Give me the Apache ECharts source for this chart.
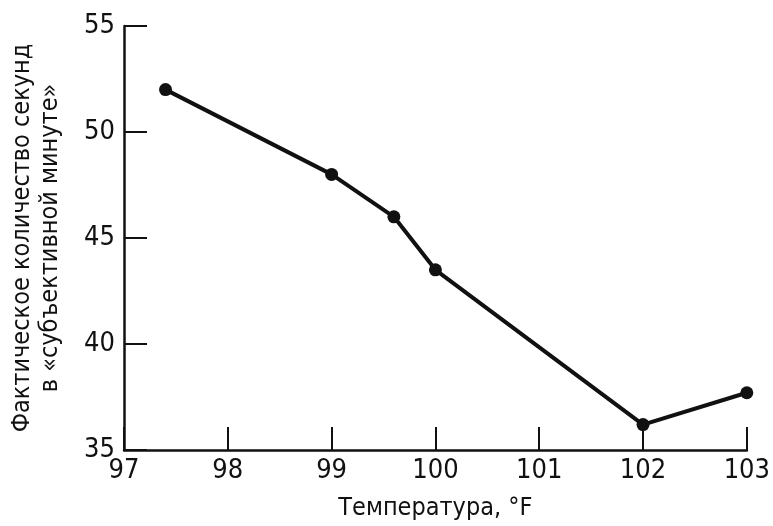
<!DOCTYPE html>
<html>
<head>
<meta charset="utf-8">
<script src="https://cdn.jsdelivr.net/npm/echarts@6/dist/echarts.min.js"></script>
<style>
html,body{margin:0;padding:0;background:#fff;}
#chart{width:773px;height:526px;}
</style>
</head>
<body>
<div id="chart"></div>
<script>
const temperatures = [97.4, 99, 99.6, 100, 102, 103];
const seconds = [52, 48, 46, 43.5, 36.2, 37.7];
const xTitle = 'Температура, °F';
const yTitle = 'Фактическое количество секунд\nв «субъективной минуте»';

const FONT = "'Liberation Sans Narrow', 'Arial Narrow', 'DejaVu Sans Condensed', sans-serif";
const INK = '#111';

const chart = echarts.init(document.getElementById('chart'), null, {renderer: 'canvas'});
chart.setOption({
  backgroundColor: '#fff',
  animation: false,
  grid: {left: 123, right: 18, top: 26, bottom: 73, containLabel: false},
  xAxis: {
    type: 'value', min: 97, max: 103, interval: 1,
    name: xTitle, nameLocation: 'middle', nameGap: 46,
    nameTextStyle: {fontFamily: FONT, fontSize: 25, color: INK},
    axisLine: {show: true, lineStyle: {color: INK, width: 2.5}},
    axisTick: {show: true, inside: true, length: 23, lineStyle: {color: INK, width: 2}},
    axisLabel: {fontFamily: FONT, fontSize: 27, color: INK, margin: 7},
    splitLine: {show: false}
  },
  yAxis: {
    type: 'value', min: 35, max: 55, interval: 5,
    name: yTitle, nameLocation: 'middle', nameGap: 60, nameRotate: 90,
    nameTextStyle: {fontFamily: FONT, fontSize: 25, color: INK, lineHeight: 28, align: 'center'},
    axisLine: {show: true, lineStyle: {color: INK, width: 2.5}},
    axisTick: {show: true, inside: true, length: 23, lineStyle: {color: INK, width: 2}},
    axisLabel: {fontFamily: FONT, fontSize: 27, color: INK, margin: 9},
    splitLine: {show: false}
  },
  series: [{
    type: 'line',
    data: temperatures.map((t, i) => [t, seconds[i]]),
    symbol: 'circle', symbolSize: 13,
    itemStyle: {color: INK},
    lineStyle: {color: INK, width: 4},
    clip: false
  }]
});
</script>
</body>
</html>
